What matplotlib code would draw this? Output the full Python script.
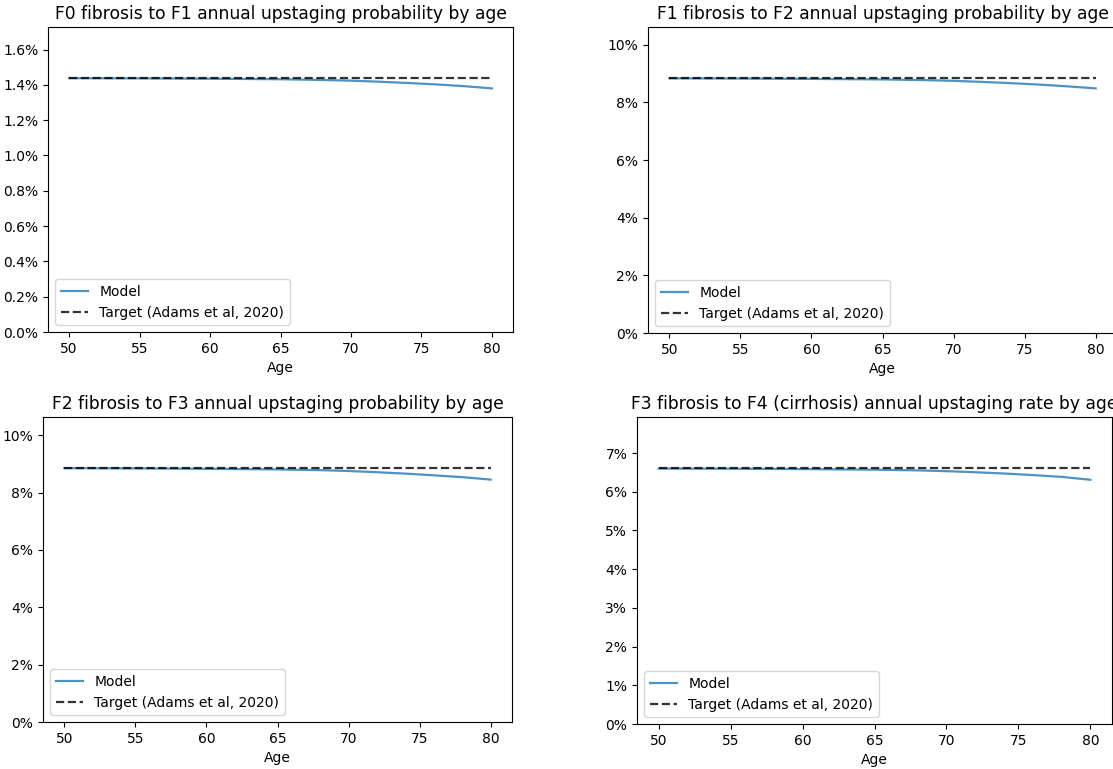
import matplotlib
matplotlib.use("Agg")
import matplotlib.pyplot as plt
from matplotlib.ticker import PercentFormatter, MultipleLocator

ages = [50, 55, 60, 65, 68, 70, 72, 74, 76, 78, 80]

titles = [
    "F0 fibrosis to F1 annual upstaging probability by age",
    "F1 fibrosis to F2 annual upstaging probability by age",
    "F2 fibrosis to F3 annual upstaging probability by age",
    "F3 fibrosis to F4 (cirrhosis) annual upstaging rate by age",
]

# target (Adams et al, 2020) annual probabilities
targets = [0.0144, 0.0885, 0.0886, 0.0661]

# model outputs
model_f0 = [0.01438, 0.01437, 0.01435, 0.01432, 0.01428, 0.01424,
            0.01418, 0.01411, 0.01403, 0.01393, 0.01380]
model_f1 = [0.08838, 0.08832, 0.08819, 0.08800, 0.08777, 0.08752,
            0.08715, 0.08672, 0.08622, 0.08561, 0.08490]
model_f2 = [0.08848, 0.08841, 0.08826, 0.08805, 0.08780, 0.08750,
            0.08707, 0.08658, 0.08600, 0.08535, 0.08450]
model_f3 = [0.06600, 0.06596, 0.06586, 0.06572, 0.06553, 0.06533,
            0.06505, 0.06472, 0.06432, 0.06385, 0.06310]
models = [model_f0, model_f1, model_f2, model_f3]

tick_steps = [0.002, 0.02, 0.02, 0.01]
decimals = [1, 0, 0, 0]

W, H = 1113, 769
fig = plt.figure(figsize=(W / 100, H / 100), dpi=100)

# axes boxes in pixels: left, top, right, bottom
boxes = [
    (48, 27, 513, 332),
    (648, 27, 1117, 333),
    (43, 417, 512, 722),
    (637, 417, 1112, 724),
]

for i in range(4):
    l, t, r, b = boxes[i]
    ax = fig.add_axes([l / W, 1 - b / H, (r - l) / W, (b - t) / H])
    ax.plot(ages, models[i], color="tab:blue", alpha=0.8, lw=1.6, label="Model")
    ax.plot([ages[0], ages[-1]], [targets[i], targets[i]], "k--", alpha=0.8,
            lw=1.6, label="Target (Adams et al, 2020)")
    ax.set_ylim(0, targets[i] * 1.2)
    ax.yaxis.set_major_locator(MultipleLocator(tick_steps[i]))
    ax.yaxis.set_major_formatter(PercentFormatter(1, decimals=decimals[i]))
    ax.set_xlabel("Age")
    # the last title runs past the right edge in the original figure too
    ax.set_title(titles[i], fontsize=12.3)
    ax.legend(loc="lower left")

fig.savefig("out.png", dpi=100)
